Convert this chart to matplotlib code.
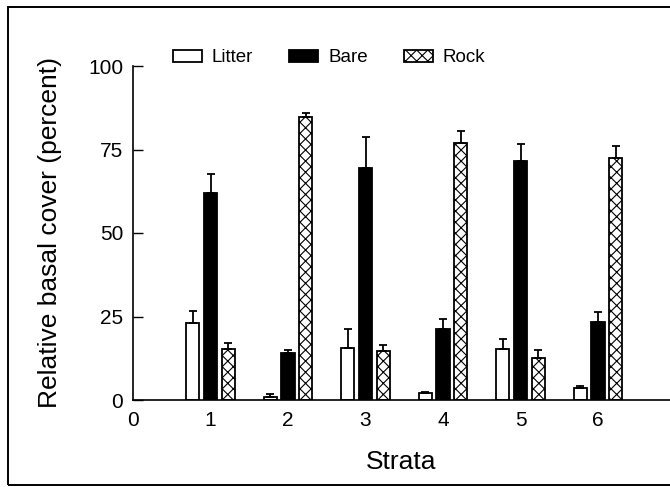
import numpy as np
import matplotlib
matplotlib.use('Agg')
import matplotlib.pyplot as plt
from matplotlib.patches import Rectangle

plt.rcParams['font.family'] = ['Liberation Sans', 'DejaVu Sans']
plt.rcParams['hatch.linewidth'] = 0.8

# Mean relative basal cover per stratum, with standard errors
strata = [1, 2, 3, 4, 5, 6]
litter = [23.0, 1.0, 15.5, 2.0, 15.4, 3.5]
litter_se = [3.6, 0.7, 5.7, 0.3, 2.8, 0.6]
bare = [62.0, 14.0, 69.4, 21.2, 71.7, 23.3]
bare_se = [5.8, 0.9, 9.4, 3.2, 4.8, 3.0]
rock = [15.3, 84.8, 14.7, 76.8, 12.7, 72.4]
rock_se = [1.7, 1.0, 1.8, 3.7, 2.3, 3.6]
xtick_labels = ['0', '1', '2', '3', '4', '5', '6']
ytick_values = [0, 25, 50, 75, 100]

fig = plt.figure(figsize=(6.7, 4.87), dpi=100)
ax = fig.add_axes([133 / 670, 1 - 400 / 487, 537 / 670, 334 / 487])

x = np.array(strata, dtype=float)
width = 0.168
offset = 0.232
err_kw = dict(ecolor='black', elinewidth=1.3, capsize=3, capthick=1.3)

series = [
    (litter, litter_se, -offset, dict(color='white', label='Litter')),
    (bare, bare_se, 0.0, dict(color='black', label='Bare')),
    (rock, rock_se, offset, dict(color='white', hatch='xxx', label='Rock')),
]
for vals, se, dx, style in series:
    ax.bar(x + dx, vals, width, edgecolor='black', linewidth=1.3,
           yerr=[np.zeros(len(se)), se], error_kw=err_kw, **style)

ax.set_xlim(0, 537 / 77.5)
ax.set_ylim(0, 100)
ax.set_xticks(range(len(xtick_labels)))
ax.set_xticklabels(xtick_labels)
ax.set_yticks(ytick_values)
ax.tick_params(axis='x', length=0, pad=8, labelsize=15)
ax.tick_params(axis='y', direction='in', length=7, width=1, pad=7, labelsize=15)

for side in ('top', 'right'):
    ax.spines[side].set_visible(False)
for side in ('left', 'bottom'):
    ax.spines[side].set_linewidth(1.2)

ax.set_ylabel('Relative basal cover (percent)', fontsize=19)
ax.yaxis.set_label_coords(-0.132, 0.5)
ax.set_xlabel('Strata', fontsize=19)
ax.xaxis.set_label_coords(0.5, -0.15)

ax.legend(loc='center', bbox_to_anchor=(329 / 670, 1 - 58 / 487),
          bbox_transform=fig.transFigure, ncol=3, frameon=False,
          fontsize=13.5, handlelength=1.55, handleheight=0.6,
          handletextpad=0.55, columnspacing=1.9)

# outer frame around the figure
fig.patches.append(Rectangle((8 / 670, 2 / 487), 2.0, 1 - 9 / 487,
                             transform=fig.transFigure, fill=False,
                             edgecolor='black', linewidth=1.4))

fig.savefig('out.png', dpi=100)
